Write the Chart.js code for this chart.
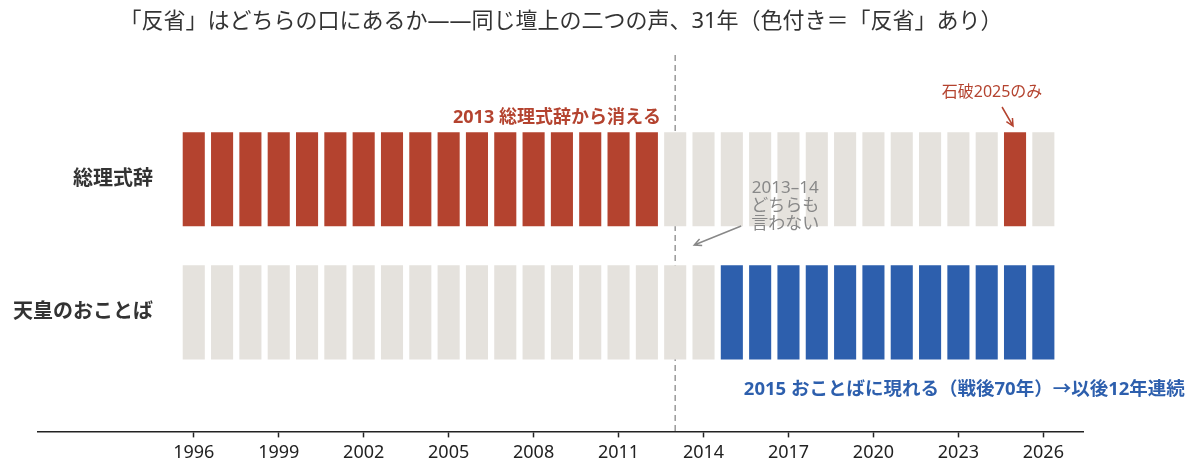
<!DOCTYPE html>
<html>
<head>
<meta charset="utf-8">
<script src="https://cdn.jsdelivr.net/npm/chart.js@4"></script>
<style>
  html, body { margin: 0; padding: 0; background: #fff; }
  #wrap { width: 1200px; height: 476px; }
</style>
</head>
<body>
<div id="wrap"><canvas id="reflectChart"></canvas></div>
<script>
// years 1996-2026, 1 = "反省" was said that year
const years = [1996, 1997, 1998, 1999, 2000, 2001, 2002, 2003, 2004, 2005, 2006,
               2007, 2008, 2009, 2010, 2011, 2012, 2013, 2014, 2015, 2016, 2017,
               2018, 2019, 2020, 2021, 2022, 2023, 2024, 2025, 2026];
const pmHansei = [1, 1, 1, 1, 1, 1, 1, 1, 1, 1, 1, 1, 1, 1, 1, 1, 1,
                  0, 0, 0, 0, 0, 0, 0, 0, 0, 0, 0, 0, 1, 0];
const emperorHansei = [0, 0, 0, 0, 0, 0, 0, 0, 0, 0, 0, 0, 0, 0, 0, 0, 0, 0, 0,
                       1, 1, 1, 1, 1, 1, 1, 1, 1, 1, 1, 1];
const rowLabels = ['総理式辞', '天皇のおことば'];
const tickYears = [1996, 1999, 2002, 2005, 2008, 2011, 2014, 2017, 2020, 2023, 2026];
const splitYear = 2013;

const RED = '#b4432f';
const BLUE = '#2d5fad';
const OFF = '#e5e2dd';
const FONT = '"Noto Sans", "Noto Sans CJK JP", sans-serif';

// vertical bands for the two rows on the hidden y scale
const ROW_BAND = [[2.18, 3.18], [0.765, 1.765]];

function rowData(band) {
    return years.map(y => ({ x: y, y: band }));
}

function arrow(ctx, x1, y1, x2, y2, color) {
    const a = Math.atan2(y2 - y1, x2 - x1);
    const h = 8;
    ctx.save();
    ctx.strokeStyle = color;
    ctx.lineWidth = 1.5;
    ctx.beginPath();
    ctx.moveTo(x1, y1);
    ctx.lineTo(x2, y2);
    ctx.moveTo(x2 - h * Math.cos(a - 0.45), y2 - h * Math.sin(a - 0.45));
    ctx.lineTo(x2, y2);
    ctx.lineTo(x2 - h * Math.cos(a + 0.45), y2 - h * Math.sin(a + 0.45));
    ctx.stroke();
    ctx.restore();
}

const notes = {
    id: 'notes',
    beforeDatasetsDraw(chart) {
        const ctx = chart.ctx;
        const x = chart.scales.x;
        const area = chart.chartArea;
        const sx = x.getPixelForValue(splitYear);
        ctx.save();
        ctx.strokeStyle = '#999';
        ctx.lineWidth = 1.5;
        ctx.setLineDash([6, 4]);
        ctx.beginPath();
        ctx.moveTo(sx, area.top);
        ctx.lineTo(sx, area.bottom);
        ctx.stroke();
        ctx.restore();
    },
    afterDraw(chart) {
        const ctx = chart.ctx;
        const x = chart.scales.x;
        const y = chart.scales.y;
        ctx.save();

        // title
        ctx.fillStyle = '#333';
        ctx.font = '22px ' + FONT;
        ctx.textAlign = 'center';
        ctx.textBaseline = 'middle';
        ctx.fillText('「反省」はどちらの口にあるか——同じ壇上の二つの声、31年（色付き＝「反省」あり）', 561, 22);

        // row labels
        ctx.font = 'bold 20px ' + FONT;
        ctx.textAlign = 'right';
        ctx.fillStyle = '#333';
        rowLabels.forEach((label, i) => {
            const mid = (ROW_BAND[i][0] + ROW_BAND[i][1]) / 2;
            ctx.fillText(label, 153, y.getPixelForValue(mid));
        });

        // 2013 note
        ctx.fillStyle = RED;
        ctx.font = 'bold 18px ' + FONT;
        ctx.textAlign = 'right';
        ctx.fillText('2013 総理式辞から消える', x.getPixelForValue(2012) + 14, 118);

        // Ishiba note
        const x25 = x.getPixelForValue(2025);
        ctx.font = '16px ' + FONT;
        ctx.textAlign = 'center';
        ctx.fillText('石破2025のみ', x25 - 23, 92);
        arrow(ctx, x25 - 13, 107, x25 - 2, 126, RED);

        // neither side
        ctx.fillStyle = '#888';
        ctx.font = '17px ' + FONT;
        const gx = x.getPixelForValue(splitYear) + 110;
        ctx.fillText('2013–14', gx, 188);
        ctx.fillText('どちらも', gx, 206);
        ctx.fillText('言わない', gx, 224);
        arrow(ctx, gx - 44, 226, x.getPixelForValue(splitYear) + 19, 245, '#888');

        // 2015 note
        ctx.fillStyle = BLUE;
        ctx.font = 'bold 18.5px ' + FONT;
        ctx.textAlign = 'left';
        ctx.fillText('2015 おことばに現れる（戦後70年）→以後12年連続', x.getPixelForValue(2015) + 12, 390);

        ctx.restore();
    }
};

const ctx = document.getElementById('reflectChart').getContext('2d');
new Chart(ctx, {
    type: 'bar',
    data: {
        datasets: [{
            label: rowLabels[0],
            data: rowData(ROW_BAND[0]),
            backgroundColor: pmHansei.map(v => v ? RED : OFF)
        }, {
            label: rowLabels[1],
            data: rowData(ROW_BAND[1]),
            backgroundColor: emperorHansei.map(v => v ? BLUE : OFF)
        }]
    },
    options: {
        responsive: true,
        maintainAspectRatio: false,
        animation: false,
        grouped: false,
        categoryPercentage: 1,
        barPercentage: 0.78,
        layout: {
            padding: { left: 38, right: 117, top: 55, bottom: 7 }
        },
        plugins: {
            legend: { display: false },
            tooltip: { enabled: false },
            title: { display: false }
        },
        scales: {
            x: {
                type: 'linear',
                offset: false,
                min: 1990.5,
                max: 2027.4,
                afterBuildTicks: scale => {
                    scale.ticks = tickYears.map(v => ({ value: v }));
                },
                ticks: {
                    color: '#222',
                    padding: 5,
                    font: { family: FONT, size: 18 },
                    callback: v => String(v),
                    maxRotation: 0,
                    autoSkip: false
                },
                grid: {
                    offset: false,
                    drawOnChartArea: false,
                    drawTicks: true,
                    tickLength: 6,
                    tickWidth: 1.5,
                    color: '#222'
                },
                border: { color: '#222', width: 1.5 }
            },
            y: {
                display: false,
                min: 0,
                max: 4
            }
        }
    },
    plugins: [notes]
});
</script>
</body>
</html>
